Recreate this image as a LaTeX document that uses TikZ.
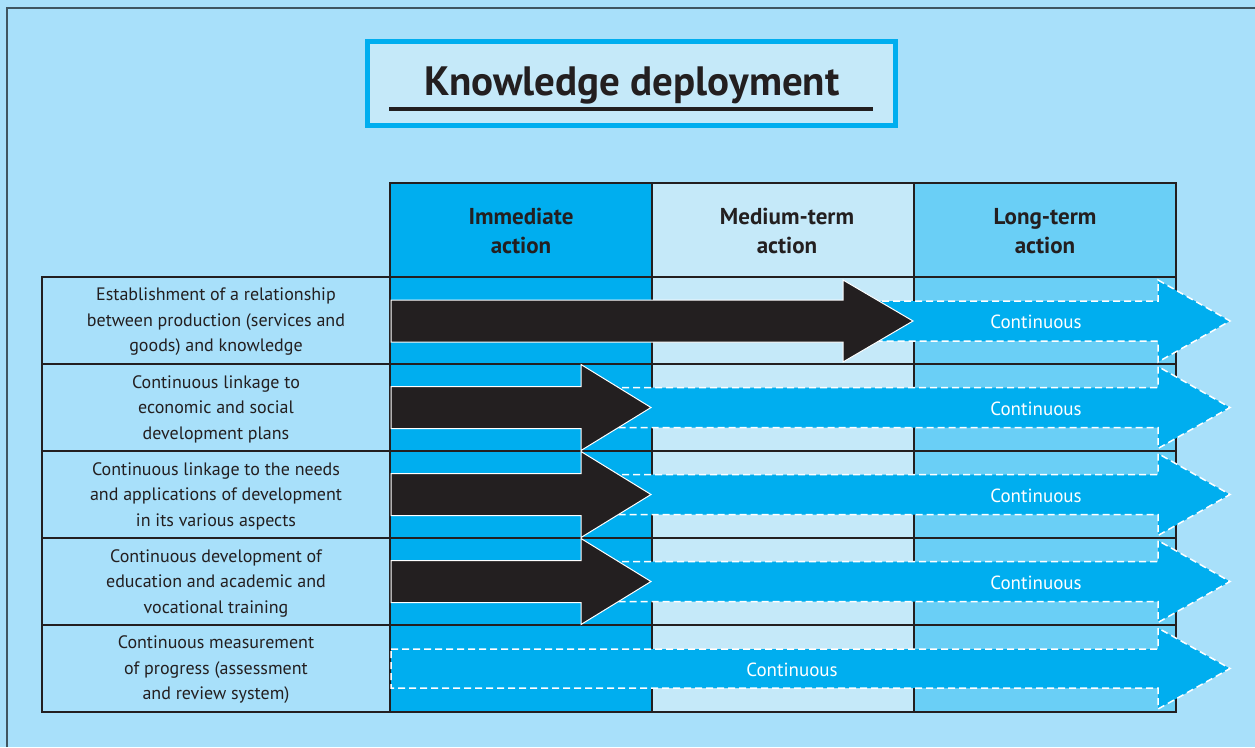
\documentclass[tikz,border=0pt]{standalone}
\usepackage{fontspec}
\setmainfont{PT Sans}
\definecolor{skybg}{HTML}{A8E0FA}
\definecolor{cyanblue}{HTML}{00AEEF}
\definecolor{paleblue}{HTML}{C5E9F9}
\definecolor{midblue}{HTML}{6ACFF6}
\definecolor{inkdark}{HTML}{231F20}
\definecolor{framegray}{HTML}{3F5560}
\tikzset{
  gridline/.style={draw=inkdark, line width=1.8pt},
  rowtext/.style={align=center, text=inkdark, font=\fontsize{18}{25.5}\selectfont},
  headtext/.style={align=center, text=inkdark, font=\bfseries\fontsize{23}{29}\selectfont},
  contlabel/.style={text=white, font=\fontsize{19}{22}\selectfont},
  blackarrow/.style={fill=inkdark, draw=white, line width=1pt},
  bluearrow/.style={fill=cyanblue, draw=white, line width=1.5pt, dash pattern=on 7pt off 4pt}
}
\begin{document}
\begin{tikzpicture}[x=1pt,y=-1pt]
\tikzstyle{every node}+=[inner sep=0pt]
\fill [skybg] (0,0) rectangle (1255,747);
\useasboundingbox (0,0) rectangle (1255,747);
\draw [framegray, line width=2pt] (7,747) -- (7,8) -- (1255,8);
% title box
\draw [cyanblue, fill=paleblue, line width=5pt] (367.5,41.5) rectangle (895.5,125.5);
\node [font=\bfseries\fontsize{41}{44}\selectfont, text=inkdark] (title) at (632,85) {Knowledge deployment};
\draw [inkdark, line width=4.5pt] (389,109) -- (873,109);
% column fills
\fill [cyanblue] (390,183) rectangle (652,712);
\fill [paleblue] (652,183) rectangle (914,712);
\fill [midblue] (914,183) rectangle (1176,712);
% grid
\draw [gridline] (390,183) rectangle (1176,712);
\draw [gridline] (652,183) -- (652,712);
\draw [gridline] (914,183) -- (914,712);
\draw [gridline] (42,277) rectangle (390,712);
\foreach \y in {277,364,451,538,625}
  \draw [gridline] (42,\y) -- (1176,\y);
% headers
\node [headtext] (hnow) at (521,231) {Immediate\\action};
\node [headtext] (hmid) at (787,231) {Medium-term\\action};
\node [headtext] (hlong) at (1045,231) {Long-term\\action};
% row labels
\node [rowtext] (r1) at (216,322) {Establishment of a relationship\\between production (services and\\goods) and knowledge};
\node [rowtext] (r2) at (216,409) {Continuous linkage to\\economic and social\\development plans};
\node [rowtext] (r3) at (216,496) {Continuous linkage to the needs\\and applications of development\\in its various aspects};
\node [rowtext] (r4) at (216,583) {Continuous development of\\education and academic and\\vocational training};
\node [rowtext] (r5) at (216,670) {Continuous measurement\\of progress (assessment\\and review system)};
% blue arrows
\draw [bluearrow] (860,301) -- (1158,301) -- (1158,280) -- (1230,321) -- (1158,362) -- (1158,341) -- (860,341);
\foreach \c in {407.5,494.5,581.5}
  \draw [bluearrow] (600,\c-20) -- (1158,\c-20) -- (1158,\c-41) -- (1230,\c) -- (1158,\c+41) -- (1158,\c+20) -- (600,\c+20);
\draw [bluearrow] (391,649) -- (1158,649) -- (1158,628) -- (1230,668.5) -- (1158,709) -- (1158,688) -- (391,688) -- cycle;
% black arrows
\draw [blackarrow] (391,300) -- (843,300) -- (843,280) -- (913,321) -- (843,362) -- (843,342) -- (391,342) -- cycle;
\foreach \c in {407.5,494.5,581.5}
  \draw [blackarrow] (391,\c-21) -- (581,\c-21) -- (581,\c-43) -- (651,\c) -- (581,\c+43) -- (581,\c+21) -- (391,\c+21) -- cycle;
% labels on arrows
\node [contlabel] (c1) at (1036,322) {Continuous};
\node [contlabel] (c2) at (1036,408.5) {Continuous};
\node [contlabel] (c3) at (1036,495.5) {Continuous};
\node [contlabel] (c4) at (1036,582.5) {Continuous};
\node [contlabel] (c5) at (792,669.5) {Continuous};
\end{tikzpicture}
\end{document}
